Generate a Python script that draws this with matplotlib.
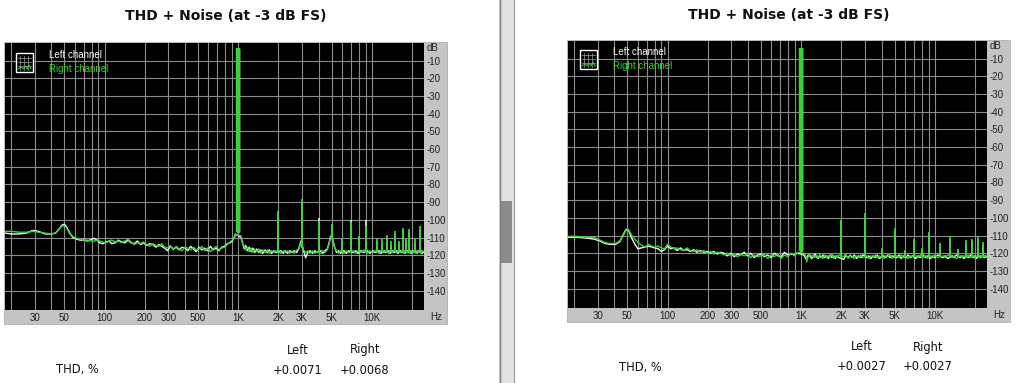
import numpy as np
import matplotlib
matplotlib.use("Agg")
import matplotlib.pyplot as plt
from matplotlib.patches import Rectangle
from matplotlib.lines import Line2D

# ---------------- data ----------------
title_text = "THD + Noise (at -3 dB FS)"
x_tick_vals = [30, 50, 100, 200, 300, 500, 1000, 2000, 3000, 5000, 10000]
x_tick_labels = ["30", "50", "100", "200", "300", "500", "1K", "2K", "3K", "5K", "10K"]
y_tick_vals = [-10, -20, -30, -40, -50, -60, -70, -80, -90, -100, -110, -120, -130, -140]
legend_labels = ["Left channel", "Right channel"]
table_cols = ["Left", "Right"]
table_row = "THD, %"

# Panel A (left screenshot): rows of (Hz, left dB, right dB)
a_noise = [
    (18, -107.5, -106.5), (20, -108, -106.5), (23, -108, -107), (26, -107.5, -107),
    (29, -106, -106.5), (32, -106.5, -107), (36, -108, -107.5), (40, -108, -108),
    (43, -107.5, -107.5), (46, -105, -105), (48, -103, -103.5), (50, -102.5, -103.5),
    (52, -104, -104.5), (55, -107.5, -108), (58, -110, -109.5), (62, -111, -110.5),
    (66, -111.5, -111), (70, -111.5, -111.5), (75, -112, -111.5), (80, -111, -112),
    (84, -110.5, -112), (88, -111.5, -111.5), (92, -113, -112), (97, -113.5, -112.5),
    (103, -112.5, -113), (108, -112, -112), (113, -113.5, -111.5), (120, -113, -112.5),
    (127, -111.5, -112), (134, -112.5, -113), (142, -113, -112), (150, -111.5, -111),
    (158, -113, -112.5), (167, -113.5, -114), (176, -112, -113), (186, -114, -113.5),
    (196, -113, -112.5), (207, -114.5, -114), (218, -113.5, -115), (230, -114, -113.5),
    (242, -115.5, -114.5), (255, -114, -115), (268, -115, -113.5), (282, -116, -115.5),
    (296, -117.5, -116), (311, -115, -114.5), (327, -116.5, -117), (344, -115.5, -115),
    (362, -117, -116.5), (380, -115.5, -117.5), (400, -116, -115.5), (420, -117.5, -116),
    (441, -115, -117), (463, -116.5, -115.5), (486, -118, -117), (510, -115.5, -116.5),
    (535, -117, -115), (562, -116, -117.5), (590, -117.5, -116), (620, -115, -118),
    (650, -117, -116.5), (683, -116, -115), (717, -117.5, -117), (753, -115.5, -116),
    (790, -115, -115.5), (830, -113.5, -114), (870, -113, -112.5), (905, -112, -111.5),
    (935, -110, -110.5), (955, -108, -108.5),
    (1050, -110, -109), (1080, -113, -113.5), (1110, -116.5, -115), (1140, -114.5, -117),
    (1170, -117.5, -115.5), (1210, -115.5, -118), (1250, -118, -116), (1290, -116, -118.5),
    (1330, -118.5, -116.5), (1380, -116.5, -118), (1430, -118.5, -116.5), (1480, -117, -119),
    (1530, -119, -117), (1590, -117, -118.5), (1650, -118.5, -117), (1710, -117, -119),
    (1780, -119, -117.5), (1850, -117.5, -118.5), (1920, -118.5, -117.5), (2090, -117.5, -119),
    (2170, -119, -117.5), (2250, -117.5, -118.5), (2340, -119, -117.5), (2430, -117.5, -119),
    (2530, -118.5, -117.5), (2630, -117.5, -119), (2750, -118.5, -117), (2850, -116, -116.5),
    (2950, -112, -113), (3080, -117, -117), (3200, -121.5, -118.5), (3320, -118.5, -117.5),
    (3450, -117.5, -119), (3600, -119, -117.5), (3750, -117.5, -119), (3880, -118.5, -118),
    (4150, -117.5, -119), (4300, -119, -117.5), (4450, -117.5, -118.5), (4650, -116.5, -117),
    (4800, -113, -113.5), (4900, -110, -109), (5100, -111, -110.5), (5250, -115, -115.5),
    (5450, -118.5, -117.5), (5650, -117.5, -119), (5850, -119, -117.5), (6200, -117.5, -119),
    (6450, -119, -117.5), (6700, -117.5, -118.5), (7300, -118.5, -117.5), (7600, -117.5, -119),
    (7900, -119, -117.5), (8300, -117.5, -118.5), (8700, -118.5, -117), (9300, -117.5, -119),
    (9700, -119, -117.5), (10200, -117.5, -118.5), (10600, -118.5, -117.5), (11400, -117.5, -119),
    (11700, -119, -117.5), (12400, -117.5, -118.5), (12700, -118.5, -117.5), (13400, -117.5, -119),
    (13700, -119, -117.5), (14400, -117.5, -118.5), (14700, -118.5, -117), (15400, -117.5, -119),
    (15700, -119, -117.5), (16400, -117.5, -118.5), (16700, -118.5, -117.5), (17400, -117.5, -119),
    (17700, -119, -117.5), (18400, -117.5, -118.5), (18700, -118.5, -117.5), (19400, -117.5, -119),
    (19700, -119, -117.5), (20400, -117.5, -118.5), (20800, -118.5, -117.5), (21400, -117.5, -119),
    (21800, -119, -117.5), (22400, -117.5, -118.5), (22800, -118.5, -117.5), (23400, -117.5, -119),
    (23800, -119, -117.5), (24600, -118, -118),
]
a_spk_freq = [1000, 2000, 3000, 4000, 5000, 6000, 7000, 8000, 9000, 11000, 12000, 13000,
              14000, 15000, 16000, 17000, 18000, 19000, 21000, 23000]
a_spk_base = [-107, -118, -116, -118, -111, -118, -118, -118, -118, -118, -118, -118,
              -118, -118, -118, -118, -118, -118, -118, -118]
a_spk_left = [-3.5, -95, -90, -99, -103, -111, -100, -109, -100, -112, -113, -110,
              -114, -108, -113, -106, -112, -107, -112, -105]
a_spk_right = [-3, -95, -88.5, -100.5, -102.5, -110, -101, -109, -103.5, -110, -111, -108.5,
               -112, -106.5, -112, -104.5, -111, -105, -110, -103.5]
a_thd = ["+0.0071", "+0.0068"]

# Panel B (right screenshot): rows of (Hz, left dB, right dB)
b_noise = [
    (18, -111, -110.5), (21, -111, -110.5), (25, -111.5, -111), (28, -112, -111),
    (31, -113, -112.5), (34, -114.5, -114), (37, -115, -114.5), (41, -115, -114.5),
    (44, -113.5, -113), (47, -109, -109.5), (49, -106.5, -107), (51, -107, -106.5),
    (54, -111.5, -110), (57, -115, -112), (60, -117.5, -114), (64, -117, -115.5),
    (68, -116.5, -116.5), (72, -116, -115), (76, -116.5, -116), (80, -117, -116.5),
    (85, -117.5, -116), (90, -119, -117), (95, -118, -117.5), (100, -116, -115),
    (106, -117.5, -116.5), (112, -117, -117.5), (118, -118.5, -117), (125, -117, -118),
    (132, -118.5, -118.5), (140, -118, -117), (148, -119, -118.5), (157, -118, -119),
    (166, -119.5, -118), (176, -118.5, -119.5), (187, -119.5, -118.5), (198, -119, -120),
    (210, -120, -119), (222, -119, -120.5), (235, -120.5, -119.5), (249, -119.5, -120),
    (264, -120, -121), (280, -121.5, -120), (297, -120, -121.5), (315, -122, -120.5),
    (334, -120.5, -122), (354, -121, -120.5), (375, -119.5, -121.5), (397, -121.5, -120),
    (420, -120, -122.5), (445, -122.5, -121), (472, -121, -122), (500, -120.5, -121.5),
    (530, -122, -120.5), (562, -121, -123), (595, -122.5, -121), (630, -120, -122),
    (668, -121.5, -120.5), (708, -122, -123), (750, -119.5, -121), (795, -121, -122),
    (842, -120.5, -120), (892, -121, -121.5), (940, -120, -119.5),
    (1050, -121, -120), (1080, -123, -121.5), (1100, -122.5, -125), (1130, -121, -122),
    (1160, -121.5, -120.5), (1200, -123, -122), (1230, -122, -121), (1270, -120.5, -122.5),
    (1300, -122, -121), (1340, -123, -122.5), (1380, -121.5, -120.5), (1420, -122.5, -122),
    (1460, -121, -123), (1500, -122.5, -121), (1550, -121.5, -122.5), (1600, -123, -121.5),
    (1650, -121, -122), (1700, -122.5, -120.5), (1750, -121.5, -123), (1800, -123, -121.5),
    (1850, -121.5, -122.5), (1920, -122.5, -121), (2080, -123.5, -122), (2150, -121.5, -120.5),
    (2250, -122.5, -123), (2330, -121, -121.5), (2400, -122.5, -122), (2500, -121, -123),
    (2600, -123, -121.5), (2700, -121.5, -122.5), (2800, -122.5, -121), (2900, -121, -122.5),
    (3100, -122.5, -121.5), (3200, -121.5, -123), (3330, -123, -121.5), (3450, -121.5, -122.5),
    (3600, -122.5, -121), (3700, -121, -122.5), (3850, -123, -121.5), (4150, -121.5, -123),
    (4300, -122.5, -121.5), (4450, -121, -122), (4600, -122.5, -120.5), (4800, -121.5, -123),
    (5200, -122.5, -121.5), (5400, -121, -122.5), (5600, -123, -121), (5800, -121.5, -122.5),
    (6100, -122.5, -121.5), (6300, -121, -123), (6600, -122.5, -121.5), (6800, -121.5, -122),
    (7200, -123, -121.5), (7500, -121.5, -122.5), (7800, -122.5, -121), (8200, -121, -122.5),
    (8500, -122.5, -121.5), (8800, -121.5, -123), (9300, -123, -121.5), (9700, -121.5, -122.5),
    (10000, -122.5, -121), (10500, -121, -122.5), (11500, -122.5, -121.5), (12000, -121.5, -122.5),
    (12500, -123, -121), (13500, -121.5, -122.5), (14000, -122.5, -121.5), (14500, -121, -123),
    (15500, -122.5, -121.5), (16000, -121.5, -122), (16500, -123, -121.5), (17500, -121.5, -122.5),
    (18000, -122.5, -121), (18500, -121, -122.5), (19500, -122.5, -121.5), (20000, -121.5, -123),
    (20500, -123, -121.5), (21500, -121.5, -122.5), (22000, -122.5, -121.5), (22500, -121.5, -122),
    (23500, -122.5, -121.5), (24000, -121.5, -122.5), (24600, -122, -122),
]
b_spk_freq = [1000, 2000, 3000, 4000, 5000, 6000, 7000, 8000, 9000, 11000, 13000, 15000,
              17000, 19000, 21000, 23000]
b_spk_base = [-119, -122, -121, -122, -122, -122, -122, -122, -122, -122, -122, -122,
              -122, -122, -122, -122]
b_spk_left = [-4, -101, -100, -118, -107, -119, -113, -118, -109, -115, -112, -118,
              -114, -113, -112, -115]
b_spk_right = [-4, -101.5, -97.5, -117, -106, -118, -112, -117, -108, -114, -110.5, -117.5,
               -112.5, -112, -111, -113.5]
b_thd = ["+0.0027", "+0.0027"]

a_freq, a_left, a_right = (list(c) for c in zip(*a_noise))
b_freq, b_left, b_right = (list(c) for c in zip(*b_noise))

# ---------------- drawing ----------------
W, H = 1024, 383
fig = plt.figure(figsize=(W / 100, H / 100), dpi=100)
fig.patch.set_facecolor("white")

WHITE = "#f4f4f4"
GREEN = "#36d236"
GRID = "#8c8c8c"
FRAME = "#c4c4c4"


def fx(x):
    return x / W


def fy(y):
    return 1 - y / H


def rect(x0, y0, x1, y1, **kw):
    r = Rectangle((fx(x0), fy(y1)), fx(x1) - fx(x0), fy(y0) - fy(y1),
                  transform=fig.transFigure, **kw)
    fig.add_artist(r)
    return r


def line(xs, ys, **kw):
    fig.add_artist(Line2D([fx(v) for v in xs], [fy(v) for v in ys],
                          transform=fig.transFigure, **kw))


def panel(ax_box, frame_box, title_xy, leg_xy, table_xy, freq, left, right,
          sf, sbase, sl, sr, thd):
    x0, y0, x1, y1 = ax_box
    rect(*frame_box, facecolor=FRAME, edgecolor="#b0b0b0", lw=0.6, zorder=0)
    ax = fig.add_axes([fx(x0), fy(y1), fx(x1) - fx(x0), fy(y0) - fy(y1)])
    ax.set_facecolor("black")
    ax.set_xscale("log")
    ax.set_xlim(18, 24600)
    ax.set_ylim(-151, 0)
    for s in ax.spines.values():
        s.set_visible(False)
    ax.set_xticks(x_tick_vals)
    ax.set_xticklabels(x_tick_labels)
    ax.set_yticks(y_tick_vals)
    ax.set_yticklabels([str(v) for v in y_tick_vals])
    ax.xaxis.set_minor_formatter(plt.NullFormatter())
    ax.yaxis.tick_right()
    ax.tick_params(axis="x", which="both", length=0, pad=2.2, labelsize=7,
                   labelfontfamily="Liberation Sans", colors="#202020")
    ax.tick_params(axis="y", length=0, pad=1.5, labelsize=7,
                   labelfontfamily="Liberation Sans", colors="#202020")
    ax.grid(True, which="both", axis="x", color=GRID, lw=0.8)
    ax.grid(True, which="major", axis="y", color=GRID, lw=0.8)
    ax.set_axisbelow(True)

    # spectra
    ax.plot(freq, left, color=WHITE, lw=1.0, zorder=3)
    ax.vlines(sf, sbase, sl, colors=WHITE, lw=[2.5] + [1.1] * (len(sf) - 1), zorder=3)
    ax.plot(freq, right, color=GREEN, lw=1.0, zorder=4)
    ax.vlines(sf, sbase, sr, colors=GREEN, lw=[3.2] + [1.3] * (len(sf) - 1), zorder=4)

    # axis unit labels
    fig.text(fx(x1 + 3), fy(y0 + 5), "dB", fontsize=7, family="Liberation Sans",
             color="#202020", va="center", ha="left")
    fig.text(fx(x1 + 6), fy(y1 + 7), "Hz", fontsize=7, family="Liberation Sans",
             color="#202020", va="center", ha="left")

    # legend
    lx, ly = leg_xy
    rect(lx, ly, lx + 17, ly + 19, facecolor="black", edgecolor="white", lw=1.0, zorder=5)
    for k in (4, 8, 12):
        line([lx + k, lx + k], [ly + 3, ly + 17], color="#a0a0a0", lw=0.5, zorder=6)
    for k in (5, 9, 13):
        line([lx + 2, lx + 15], [ly + k, ly + k], color="#a0a0a0", lw=0.5, zorder=6)
    line([lx + 2, lx + 5, lx + 7, lx + 9, lx + 11, lx + 13, lx + 15],
         [ly + 16, ly + 14, ly + 16, ly + 13, ly + 16, ly + 12, ly + 16],
         color=GREEN, lw=0.7, zorder=7)
    fig.text(fx(lx + 33), fy(ly + 2), legend_labels[0], fontsize=7, color="white",
             family="Liberation Sans", va="center", ha="left", zorder=7)
    fig.text(fx(lx + 33), fy(ly + 16), legend_labels[1], fontsize=7, color=GREEN,
             family="Liberation Sans", va="center", ha="left", zorder=7)

    # title
    fig.text(fx(title_xy[0]), fy(title_xy[1]), title_text, fontsize=10, weight="bold",
             family="DejaVu Sans", ha="center", va="center", color="#111111")

    # table
    (rx, cx1, cx2, hy, vy) = table_xy
    for cx, lab, val in ((cx1, table_cols[0], thd[0]), (cx2, table_cols[1], thd[1])):
        fig.text(fx(cx), fy(hy), lab, fontsize=8.3, family="DejaVu Sans",
                 ha="center", va="center", color="#111111")
        fig.text(fx(cx), fy(vy), val, fontsize=8.3, family="DejaVu Sans",
                 ha="center", va="center", color="#111111")
    fig.text(fx(rx), fy(vy), table_row, fontsize=8.3, family="DejaVu Sans",
             ha="center", va="center", color="#111111")
    return ax


panel((5, 43, 424, 310), (4, 42, 447, 324), (226, 16), (16, 53),
      (77, 298, 365, 350, 370), a_freq, a_left, a_right,
      a_spk_freq, a_spk_base, a_spk_left, a_spk_right, a_thd)
panel((568, 41, 987, 308), (567, 40, 1010, 322), (789, 15), (580, 50),
      (640, 862, 928, 347, 367), b_freq, b_left, b_right,
      b_spk_freq, b_spk_base, b_spk_left, b_spk_right, b_thd)

# scrollbar between the two screenshots
rect(499, 0, 514, 383, facecolor="#e2e2e2", edgecolor="none", zorder=0)
line([499.5, 499.5], [0, 383], color="#7a7a7a", lw=1.0)
line([513.5, 513.5], [0, 383], color="#9a9a9a", lw=0.8)
rect(500, 201, 511, 262, facecolor="#8c8c8c", edgecolor="#7a7a7a", lw=0.5, zorder=1)

fig.savefig("out.png", dpi=100, facecolor="white")
